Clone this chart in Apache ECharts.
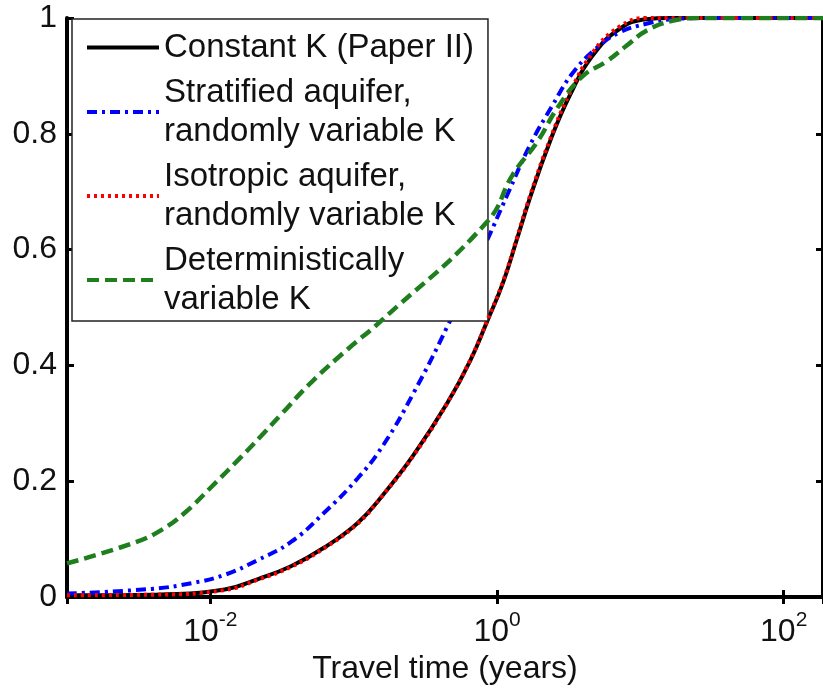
<!DOCTYPE html>
<html><head><meta charset="utf-8">
<script src="https://cdn.jsdelivr.net/npm/echarts@6/dist/echarts.min.js"></script>
<style>html,body{margin:0;padding:0;background:#fff}#c{width:823px;height:690px}</style>
</head><body><div id="c"></div><script>
// Series names (legend)
const seriesNames = [
  'Constant K (Paper II)',
  'Stratified aquifer,\nrandomly variable K',
  'Isotropic aquifer,\nrandomly variable K',
  'Deterministically\nvariable K'
];
// Travel times, stored as log10(years)
const constLogT = [-3.0, -2.4, -1.9, -1.667, -1.4375, -1.208, -0.972, -0.8, -0.583, -0.347, -0.1875, -0.069, 0.042, 0.139, 0.229, 0.368, 0.507, 0.667, 0.854, 1.042, 1.2, 2.275];
const constF    = [0.003, 0.004, 0.013, 0.031, 0.053, 0.085, 0.128, 0.175, 0.245, 0.335, 0.408, 0.476, 0.543, 0.618, 0.689, 0.786, 0.866, 0.935, 0.981, 0.998, 1.0, 1.0];

const stratLogT = [-3.0, -2.41, -2.13, -1.903, -1.667, -1.4375, -1.208, -0.972, -0.792, -0.583, -0.347, -0.069, 0.069, 0.229, 0.389, 0.528, 0.694, 0.854, 1.042, 1.222, 1.5, 2.275];
const stratF    = [0.006, 0.014, 0.024, 0.038, 0.064, 0.095, 0.145, 0.205, 0.263, 0.352, 0.467, 0.616, 0.693, 0.78, 0.85, 0.905, 0.948, 0.975, 0.99, 0.998, 1.0, 1.0];

const isoLogT = [-3.0, -2.4, -1.9, -1.667, -1.4375, -1.208, -0.972, -0.8, -0.583, -0.347, -0.1875, -0.069, 0.042, 0.139, 0.229, 0.368, 0.507, 0.667, 0.854, 1.042, 1.2, 2.275];
const isoF    = [0.003, 0.004, 0.012, 0.030, 0.052, 0.084, 0.127, 0.175, 0.244, 0.335, 0.409, 0.477, 0.545, 0.62, 0.692, 0.789, 0.87, 0.94, 0.985, 1.0, 1.0, 1.0];

const detLogT = [-3.0, -2.528, -2.34, -2.18, -1.993, -1.785, -1.646, -1.507, -1.299, -1.042, -0.8125, -0.069, 0.111, 0.278, 0.43, 0.6, 0.764, 0.903, 1.042, 1.222, 1.4, 2.275];
const detF    = [0.058, 0.094, 0.116, 0.145, 0.19, 0.242, 0.278, 0.315, 0.37, 0.428, 0.476, 0.648, 0.73, 0.785, 0.848, 0.9, 0.925, 0.952, 0.978, 0.995, 1.0, 1.0];

// Axis settings (values)
const xMin = 0.001, xMax = 188;
const xLabelExponents = [-2, 0, 2];
const yMin = 0, yMax = 1, yStep = 0.2;
const xTitle = 'Travel time (years)';

const FONT = 'Liberation Sans, Arial, sans-serif';
const pairs = (lt, f) => lt.map((e, i) => [Math.pow(10, e), f[i]]);

const chart = echarts.init(document.getElementById('c'), null, {renderer: 'canvas'});
const axisLine = {show: true, lineStyle: {color: '#000', width: 4}};
const tick = {show: true, inside: true, length: 7, lineStyle: {color: '#000', width: 3}};

chart.setOption({
  animation: false,
  backgroundColor: '#fff',
  textStyle: {fontFamily: FONT},
  grid: {left: 67, right: 0, top: 18, bottom: 93, containLabel: false, outerBoundsMode: 'none'},
  legend: {
    orient: 'vertical', left: 72, top: 19,
    padding: [9, 14, 2, 13], itemGap: 6, itemWidth: 72, itemHeight: 14,
    backgroundColor: '#fff', borderColor: '#222', borderWidth: 1.5, borderRadius: 0,
    selectedMode: false,
    itemStyle: {opacity: 0},
    lineStyle: {width: 4},
    textStyle: {fontSize: 33, lineHeight: 39, color: '#111', fontFamily: FONT},
    data: seriesNames
  },
  xAxis: [{
    type: 'log', logBase: 100, min: xMin, max: xMax, position: 'bottom',
    axisLine: axisLine, axisTick: tick, splitLine: {show: false}, minorTick: {show: false},
    name: xTitle, nameLocation: 'middle', nameGap: 47,
    nameTextStyle: {fontSize: 32, color: '#111', fontFamily: FONT},
    axisLabel: {
      show: true, margin: 13, color: '#111', fontFamily: FONT,
      showMinLabel: false, showMaxLabel: false,
      formatter: function (v) {
        const l = Math.log10(v), e = Math.round(l);
        if (Math.abs(l - e) > 1e-6 || xLabelExponents.indexOf(e) < 0) return '';
        return '{b|10}{s|' + e + '}';
      },
      rich: {
        b: {fontSize: 32, lineHeight: 44, color: '#111', fontFamily: FONT},
        s: {fontSize: 21, lineHeight: 20, verticalAlign: 'top', color: '#111', fontFamily: FONT}
      }
    }
  }, {
    type: 'log', logBase: 100, min: xMin, max: xMax, position: 'top',
    axisLine: axisLine, axisTick: tick, splitLine: {show: false}, minorTick: {show: false},
    axisLabel: {show: false}
  }],
  yAxis: [{
    type: 'value', min: yMin, max: yMax, interval: yStep, position: 'left',
    axisLine: axisLine, axisTick: tick, splitLine: {show: false},
    axisLabel: {fontSize: 32, margin: 10, color: '#111', fontFamily: FONT}
  }, {
    type: 'value', min: yMin, max: yMax, interval: yStep, position: 'right',
    axisLine: axisLine, axisTick: tick, splitLine: {show: false},
    axisLabel: {show: false}
  }],
  series: [
    {name: seriesNames[0], type: 'line', data: pairs(constLogT, constF), symbol: 'none', showSymbol: false,
     smooth: 0.45, z: 2,
     lineStyle: {color: '#000', width: 4, type: 'solid'}, itemStyle: {color: '#000'}},
    {name: seriesNames[1], type: 'line', data: pairs(stratLogT, stratF), symbol: 'none', showSymbol: false,
     smooth: 0.45, z: 3,
     lineStyle: {color: '#0000ff', width: 4, type: [10, 5, 3, 5]}, itemStyle: {color: '#0000ff'}},
    {name: seriesNames[2], type: 'line', data: pairs(isoLogT, isoF), symbol: 'none', showSymbol: false,
     smooth: 0.45, z: 4,
     lineStyle: {color: '#ff0000', width: 4, type: [3, 4]}, itemStyle: {color: '#ff0000'}},
    {name: seriesNames[3], type: 'line', data: pairs(detLogT, detF), symbol: 'none', showSymbol: false,
     smooth: 0.45, z: 5,
     lineStyle: {color: '#1f7f1f', width: 4.5, type: [12, 6]}, itemStyle: {color: '#1f7f1f'}}
  ]
});
</script></body></html>
